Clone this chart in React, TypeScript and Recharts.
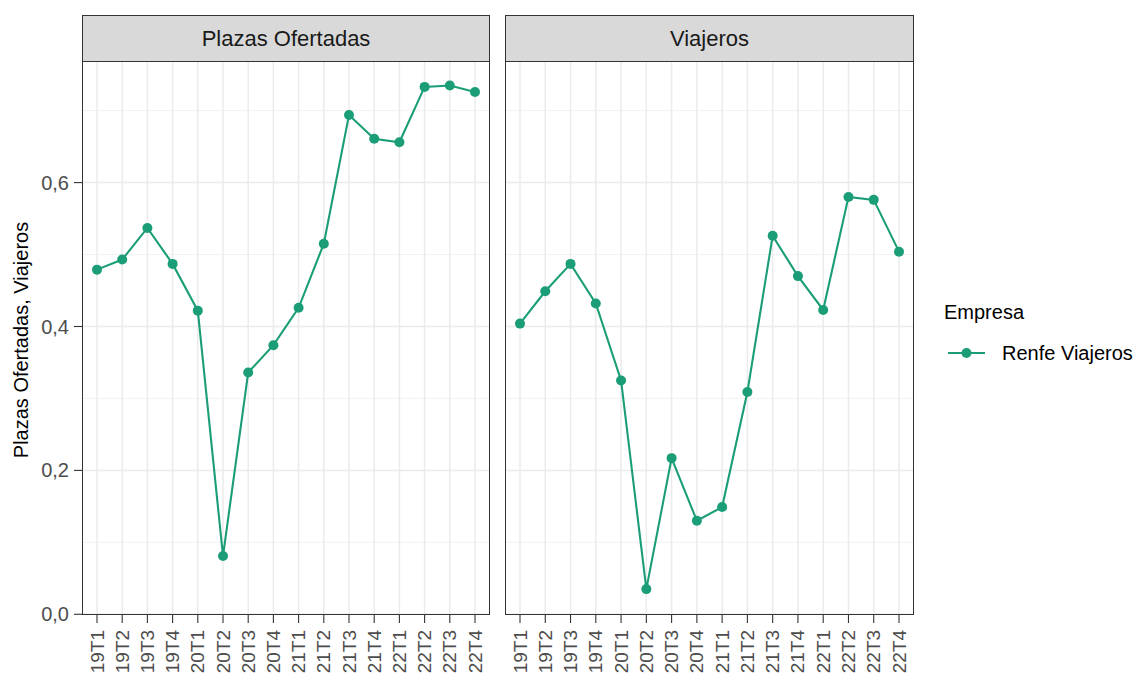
import React from 'react';
import { LineChart, Line, XAxis, YAxis, ReferenceLine } from 'recharts';

const GREEN = '#1b9e77';
const FONT = '"Liberation Sans", Arial, sans-serif';

const quarters = ['19T1', '19T2', '19T3', '19T4', '20T1', '20T2', '20T3', '20T4', '21T1', '21T2', '21T3', '21T4', '22T1', '22T2', '22T3', '22T4'];
const plazasOfertadas = [0.479, 0.493, 0.537, 0.487, 0.422, 0.081, 0.336, 0.374, 0.426, 0.515, 0.694, 0.661, 0.656, 0.733, 0.735, 0.726];
const viajeros = [0.404, 0.449, 0.487, 0.432, 0.325, 0.035, 0.217, 0.130, 0.149, 0.309, 0.526, 0.470, 0.423, 0.580, 0.576, 0.504];
const majorTicks = [0, 0.2, 0.4, 0.6];
const minorTicks = [0.1, 0.3, 0.5, 0.7];
const panels = ['Plazas Ofertadas', 'Viajeros'];
const seriesName = 'Renfe Viajeros';
const legendTitle = 'Empresa';
const yTitle = 'Plazas Ofertadas, Viajeros';

const Y_DOMAIN: [number, number] = [-0.001, 0.769];
const PLOT_TOP = 61;
const PLOT_H = 554;
const X_AXIS_H = 60;

const rowsFor = (vals: number[]) => quarters.map((q, i) => ({ q, v: vals[i] }));

const fmt = (v: number) => v.toFixed(1).replace('.', ',');

function XTick(props: any) {
  const { x, y, payload } = props;
  return (
    <text
      x={x}
      y={y}
      transform={`rotate(-90, ${x}, ${y})`}
      textAnchor="end"
      dominantBaseline="central"
      fontSize={19}
      fill="#4d4d4d"
      fontFamily={FONT}
    >
      {payload.value}
    </text>
  );
}

function YTitle(props: any) {
  const vb = props.viewBox;
  const cx = vb.x + 21;
  const cy = vb.y + vb.height / 2 + 2;
  return (
    <text x={cx} y={cy} transform={`rotate(-90, ${cx}, ${cy})`} textAnchor="middle" dominantBaseline="central" fontSize={20} fill="#000" fontFamily={FONT}>
      {yTitle}
    </text>
  );
}

function LegendBox() {
  return (
    <div style={{ position: 'absolute', left: 944, top: 300, fontFamily: FONT, color: '#000' }}>
      <div style={{ fontSize: 20, lineHeight: '24px', marginBottom: 7 }}>{legendTitle}</div>
      <div style={{ display: 'flex', alignItems: 'center' }}>
        <svg width={46} height={44} style={{ display: 'block' }}>
          <line x1={4} x2={41} y1={22} y2={22} stroke={GREEN} strokeWidth={2} />
          <circle cx={22.5} cy={22} r={5} fill={GREEN} />
        </svg>
        <span style={{ fontSize: 20, marginLeft: 12 }}>{seriesName}</span>
      </div>
    </div>
  );
}

function Grid() {
  return [
    ...minorTicks.map((t) => <ReferenceLine key={'mi' + t} y={t} stroke="#f2f2f2" strokeWidth={1} />),
    ...majorTicks.map((t) => <ReferenceLine key={'ma' + t} y={t} stroke="#ebebeb" strokeWidth={1.5} />),
    ...quarters.map((q) => <ReferenceLine key={'v' + q} x={q} stroke="#ebebeb" strokeWidth={1.5} />),
  ];
}

function Panel({ left, width, title, vals, showY }: any) {
  const yW = showY ? 82 : 0;
  const plotLeft = left + yW;
  const plotW = width - yW;
  return (
    <>
      <div style={{ position: 'absolute', left, top: PLOT_TOP, width, height: PLOT_H + X_AXIS_H }}>
        <LineChart
          width={width}
          height={PLOT_H + X_AXIS_H}
          data={rowsFor(vals)}
          margin={{ top: 0, right: 0, bottom: 0, left: 0 }}
        >
          <XAxis
            dataKey="q"
            padding={{ left: 15, right: 15 }}
            axisLine={false}
            tickLine={{ stroke: '#333333', strokeWidth: 1.1 }}
            tickSize={8}
            tickMargin={7}
            height={X_AXIS_H}
            interval={0}
            tick={<XTick />}
          />
          <YAxis
            hide={!showY}
            width={yW}
            domain={Y_DOMAIN}
            ticks={majorTicks}
            type="number"
            allowDataOverflow
            axisLine={false}
            tickLine={{ stroke: '#333333', strokeWidth: 1.1 }}
            tickSize={8}
            tickMargin={5}
            tickFormatter={fmt}
            tick={{ fontSize: 20, fill: '#4d4d4d', fontFamily: FONT }}
            label={showY ? <YTitle /> : undefined}
          />
          {Grid()}
          <Line
            type="linear"
            dataKey="v"
            name={seriesName}
            stroke={GREEN}
            strokeWidth={2.1}
            dot={{ r: 5, fill: GREEN, stroke: 'none' }}
            isAnimationActive={false}
          />
        </LineChart>
      </div>
      <div
        style={{
          position: 'absolute',
          left: plotLeft,
          top: PLOT_TOP,
          width: plotW,
          height: PLOT_H,
          boxSizing: 'border-box',
          border: '1.3px solid #333333',
          pointerEvents: 'none',
        }}
      />
      <div
        style={{
          position: 'absolute',
          left: plotLeft,
          top: 15,
          width: plotW,
          height: 47,
          boxSizing: 'border-box',
          border: '1.3px solid #333333',
          background: '#d9d9d9',
          color: '#1a1a1a',
          fontFamily: FONT,
          fontSize: 22,
          display: 'flex',
          alignItems: 'center',
          justifyContent: 'center',
        }}
      >
        {title}
      </div>
    </>
  );
}

export default function App() {
  return (
    <div style={{ position: 'absolute', left: 0, top: 0, width: 1136, height: 675, background: '#fff', overflow: 'hidden' }}>
      <Panel left={0} width={490} title={panels[0]} vals={plazasOfertadas} showY />
      <Panel left={505} width={409} title={panels[1]} vals={viajeros} showY={false} />
      <LegendBox />
    </div>
  );
}
